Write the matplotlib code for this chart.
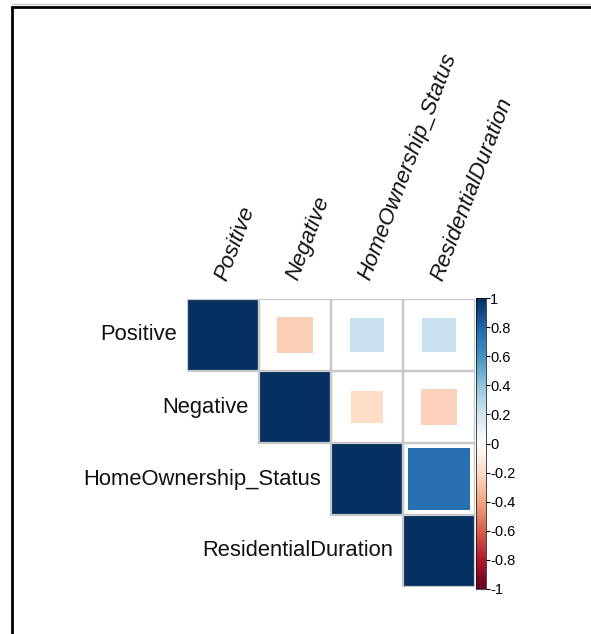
import numpy as np
import matplotlib
matplotlib.use('Agg')
import matplotlib.pyplot as plt
from matplotlib.colors import LinearSegmentedColormap, Normalize
from matplotlib.patches import Rectangle
from matplotlib.lines import Line2D
import matplotlib.cm as cm

plt.rcParams['font.family'] = ['Liberation Sans', 'DejaVu Sans']

# variables and correlation values (upper triangle)
labels = ['Positive', 'Negative', 'HomeOwnership_Status', 'ResidentialDuration']
corr = np.array([
    [1.00, -0.25, 0.22, 0.22],
    [-0.25, 1.00, -0.20, -0.24],
    [0.22, -0.20, 1.00, 0.75],
    [0.22, -0.24, 0.75, 1.00],
])
cbar_ticks = [-1, -0.8, -0.6, -0.4, -0.2, 0, 0.2, 0.4, 0.6, 0.8, 1]

# corrplot's RdBu palette
col2 = ['#67001F', '#B2182B', '#D6604D', '#F4A582', '#FDDBC7', '#FFFFFF',
        '#D1E5F0', '#92C5DE', '#4393C3', '#2166AC', '#053061']
cmap = LinearSegmentedColormap.from_list('rdbu', col2, N=200)
norm = Normalize(-1, 1)

W, H = 591, 634
fig = plt.figure(figsize=(W / 100, H / 100), dpi=100)

# screenshot frame (right and bottom edges fall outside the image)
fig.add_artist(Line2D([12 / W, 1.05], [1 - 4 / H, 1 - 4 / H], color='#cccccc', lw=1))
fig.add_artist(Rectangle((12 / W, -0.1), 1.2, 1.1 - 7 / H,
                         transform=fig.transFigure, facecolor='none',
                         edgecolor='black', lw=2))

n = len(labels)
ax = fig.add_axes([187 / W, 1 - 587 / H, 288 / W, 288 / H])
ax.set_xlim(0, n)
ax.set_ylim(n, 0)
ax.axis('off')

for i in range(n):
    for j in range(i, n):
        r = corr[i, j]
        s = np.sqrt(abs(r))
        ax.add_patch(Rectangle((j + 0.5 - s / 2, i + 0.5 - s / 2), s, s,
                               facecolor=cmap(norm(r)), edgecolor='none'))
        ax.add_patch(Rectangle((j, i), 1, 1, facecolor='none',
                               edgecolor='#c8c8c8', lw=1.6))

# row labels
for i, lab in enumerate(labels):
    ax.text(i - 0.14, i + 0.5, lab, ha='right', va='center', fontsize=15.8,
            color='#111111')

# column labels
for j, lab in enumerate(labels):
    ax.text(j + 0.47, -0.27, lab, rotation=69, rotation_mode='anchor',
            ha='left', va='center', fontsize=16, style='italic',
            color='#111111')

# colour legend
cax = fig.add_axes([476 / W, 1 - 589 / H, 10 / W, 291 / H])
sm = cm.ScalarMappable(norm=norm, cmap=cmap)
cb = fig.colorbar(sm, cax=cax, ticks=cbar_ticks)
cb.ax.set_yticklabels(['%g' % t for t in cbar_ticks])
cb.ax.tick_params(labelsize=10.5, length=3, width=0.8, pad=0)
cb.outline.set_linewidth(0.5)

fig.savefig('out.png', dpi=100)
